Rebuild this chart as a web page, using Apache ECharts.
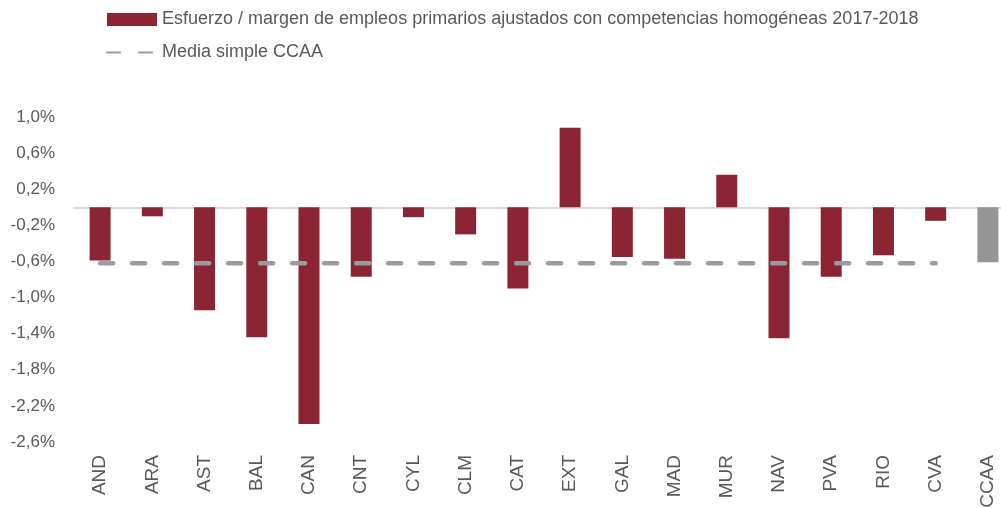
<!DOCTYPE html>
<html>
<head>
    <meta charset="utf-8">
    <title>Esfuerzo / margen de empleos primarios</title>
    <script src="https://cdn.jsdelivr.net/npm/echarts@6/dist/echarts.min.js"></script>
    <style>
        html, body { margin: 0; padding: 0; background: #fff; }
        #main { width: 1001px; height: 508px; }
    </style>
</head>
<body>
<div id="main"></div>
<script>
    // datos (en %)
    var categorias = ['AND', 'ARA', 'AST', 'BAL', 'CAN', 'CNT', 'CYL', 'CLM', 'CAT', 'EXT',
        'GAL', 'MAD', 'MUR', 'NAV', 'PVA', 'RIO', 'CVA', 'CCAA'];
    var esfuerzo = [-0.59, -0.10, -1.14, -1.44, -2.40, -0.77, -0.11, -0.30, -0.90, 0.88,
        -0.55, -0.57, 0.36, -1.45, -0.77, -0.53, -0.15, -0.61];
    var mediaSimple = [-0.62, -0.62, -0.62, -0.62, -0.62, -0.62, -0.62, -0.62, -0.62, -0.62,
        -0.62, -0.62, -0.62, -0.62, -0.62, -0.62, -0.62, null];

    var nombreBarras = 'Esfuerzo / margen de empleos primarios ajustados con competencias homogéneas 2017-2018';
    var nombreMedia = 'Media simple CCAA';
    var fuente = "'Liberation Sans', Arial, sans-serif";

    var myChart = echarts.init(document.getElementById('main'));

    var datosBarras = esfuerzo.map(function (v, i) {
        if (categorias[i] === 'CCAA') {
            return { value: v, itemStyle: { color: '#959595' } };
        }
        return v;
    });

    var option = {
        backgroundColor: '#FFFFFF',
        animation: false,
        legend: {
            orient: 'vertical',
            left: 101,
            top: 4,
            itemWidth: 50,
            itemHeight: 13,
            itemGap: 12,
            textStyle: {
                color: '#595959',
                fontSize: 18,
                lineHeight: 21,
                fontFamily: fuente
            },
            data: [
                { name: nombreBarras, icon: 'rect' },
                { name: nombreMedia, itemStyle: { color: 'rgba(0,0,0,0)', opacity: 0, borderWidth: 0 } }
            ]
        },
        grid: {
            left: 74,
            right: -13,
            top: 117,
            bottom: 66,
            outerBoundsMode: 'none'
        },
        xAxis: [{
            type: 'category',
            data: categorias,
            axisLine: { show: false, onZero: false },
            axisTick: { show: false },
            axisLabel: {
                rotate: 90,
                margin: 13,
                color: '#595959',
                fontSize: 19,
                fontFamily: fuente
            }
        }, {
            // línea del cero
            type: 'category',
            data: categorias,
            position: 'bottom',
            axisLine: { show: true, onZero: true, lineStyle: { color: '#D9D9D9', width: 2 } },
            axisTick: { show: false },
            axisLabel: { show: false }
        }],
        yAxis: {
            type: 'value',
            min: -2.6,
            max: 1.0,
            interval: 0.4,
            splitLine: { show: false },
            axisLine: { show: false },
            axisTick: { show: false },
            axisLabel: {
                margin: 19,
                color: '#595959',
                fontSize: 17,
                fontFamily: fuente,
                formatter: function (v) {
                    return v.toFixed(1).replace('.', ',') + '%';
                }
            }
        },
        series: [{
            name: nombreBarras,
            type: 'bar',
            barWidth: 21,
            itemStyle: { color: '#8B2533' },
            data: datosBarras
        }, {
            name: nombreMedia,
            type: 'line',
            symbol: 'none',
            itemStyle: { color: '#9B9B9B' },
            lineStyle: {
                color: '#9B9B9B',
                width: 4.5,
                type: [13, 19],
                cap: 'round'
            },
            data: mediaSimple
        }]
    };
    myChart.setOption(option);
</script>
</body>
</html>
